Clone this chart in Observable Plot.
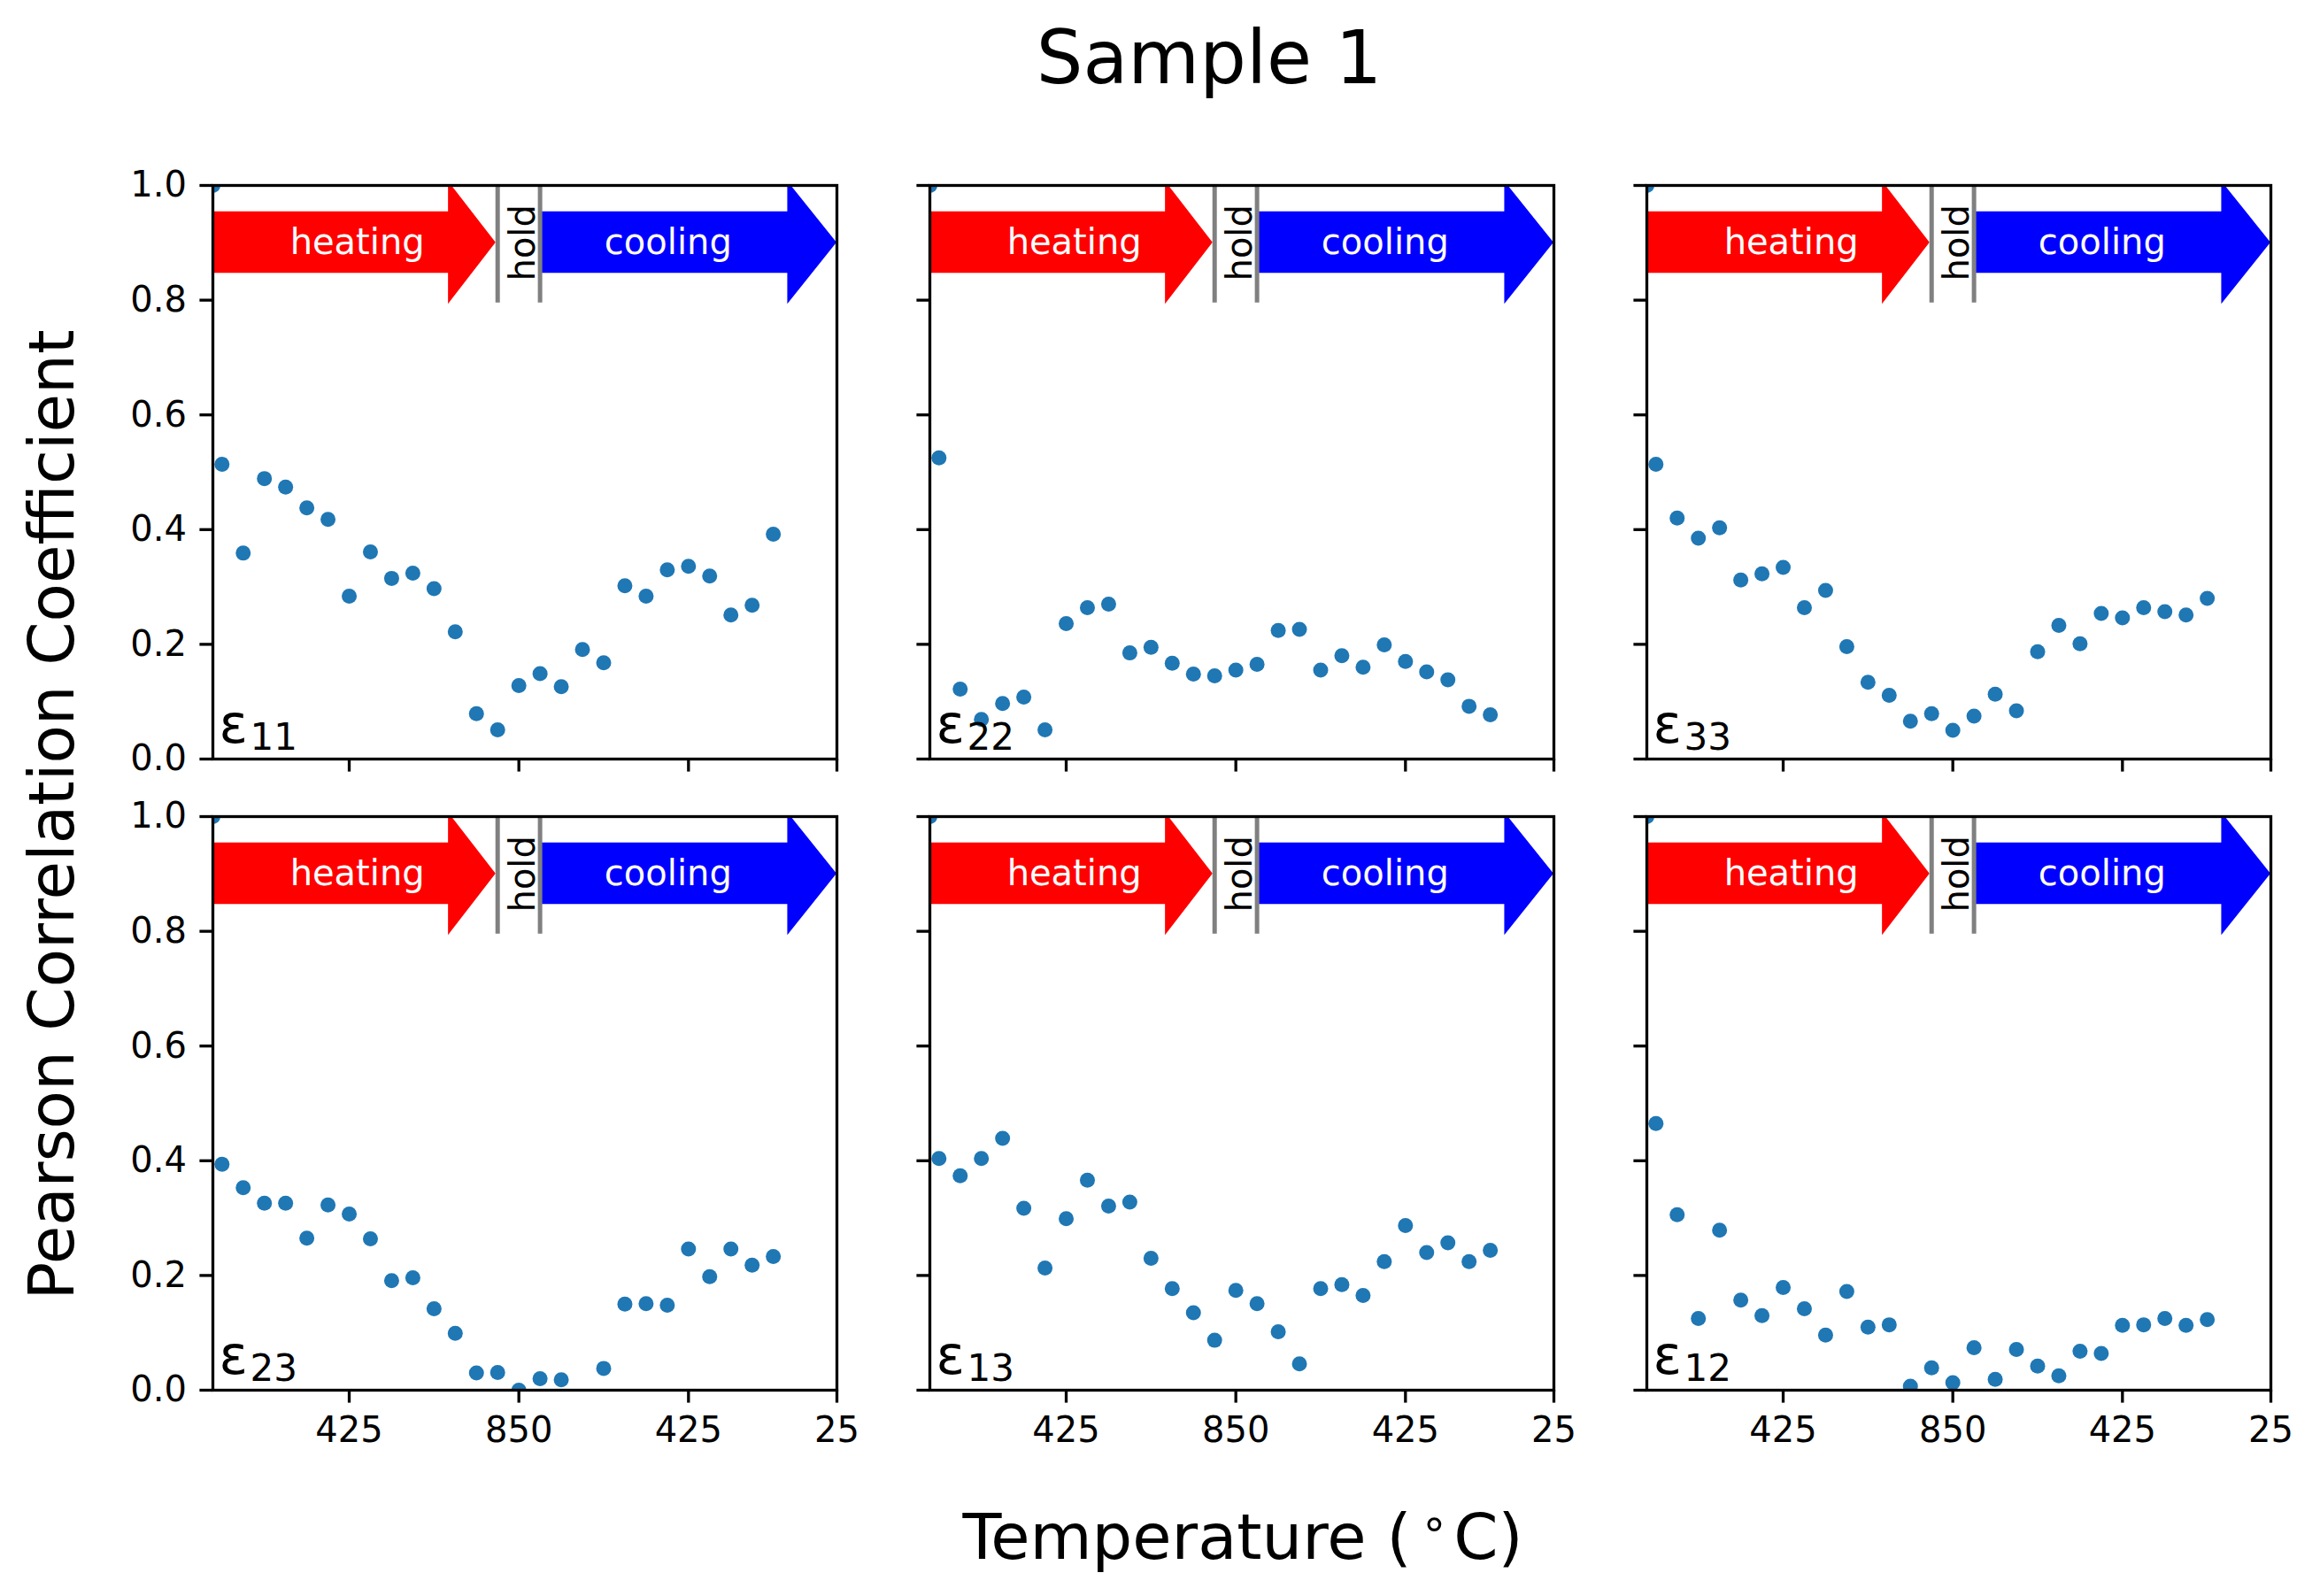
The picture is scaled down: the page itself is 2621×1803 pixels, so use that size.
<!DOCTYPE html>
<html>
<head>
<meta charset="utf-8">
<script src="https://cdn.jsdelivr.net/npm/d3@7"></script>
<script src="https://cdn.jsdelivr.net/npm/@observablehq/plot@0.6"></script>
<style>
  html, body { margin: 0; padding: 0; background: #fff; }
  #fig { position: relative; width: 2621px; height: 1803px; font-family: "DejaVu Sans"; color: #000; overflow: hidden; background: #fff; }
  .panel { position: absolute; }
  .txt { position: absolute; white-space: nowrap; text-align: center; font-family: "DejaVu Sans"; }
  #title { left: 366px; width: 2000px; top: 24px; font-size: 83px; line-height: 83px; }
  #xlabel { left: 404px; width: 2000px; top: 1700px; font-size: 72px; line-height: 72px; }
  #ylabel { left: -641.5px; top: 884.6px; width: 1400px; height: 70.8px; font-size: 70.8px; line-height: 70.8px; transform: rotate(-90deg); }
  .deg { font-size: 0.7em; position: relative; top: -0.45em; margin: 0 0.12em 0 0.2em; }
</style>
</head>
<body>
<div id="fig">
  <div id="title" class="txt">Sample 1</div>
  <div id="ylabel" class="txt">Pearson Correlation Coefficient</div>
  <div id="xlabel" class="txt">Temperature (<span class="deg">∘</span>C)</div>
</div>
<script>
// ---- data ----
// x position of each measurement (step index along heating → hold → cooling)
const steps = [0.57, 1, 2, 3, 4, 5, 6, 7, 8, 9, 10, 11, 12, 13, 14, 15, 16, 17, 18, 19, 20, 21, 22, 23, 24, 25, 26, 27];

const e11 = [1.0, 0.514, 0.359, 0.489, 0.474, 0.438, 0.418, 0.284, 0.361, 0.315, 0.324, 0.297, 0.222, 0.079, 0.051, 0.128, 0.149, 0.126, 0.191, 0.168, 0.302, 0.284, 0.330, 0.336, 0.319, 0.251, 0.268, 0.392];
const e22 = [1.0, 0.525, 0.122, 0.069, 0.097, 0.108, 0.051, 0.236, 0.264, 0.270, 0.185, 0.195, 0.167, 0.148, 0.145, 0.155, 0.165, 0.224, 0.226, 0.155, 0.180, 0.160, 0.199, 0.170, 0.152, 0.138, 0.092, 0.077];
const e33 = [1.0, 0.514, 0.420, 0.385, 0.403, 0.312, 0.323, 0.334, 0.264, 0.294, 0.196, 0.134, 0.111, 0.066, 0.079, 0.050, 0.075, 0.113, 0.084, 0.187, 0.233, 0.201, 0.254, 0.246, 0.264, 0.257, 0.251, 0.280];
const e23 = [1.0, 0.394, 0.353, 0.326, 0.326, 0.265, 0.323, 0.307, 0.264, 0.191, 0.196, 0.142, 0.099, 0.030, 0.031, 0.0, 0.020, 0.018, null, 0.038, 0.150, 0.151, 0.148, 0.246, 0.198, 0.246, 0.218, 0.233];
const e13 = [1.0, 0.404, 0.374, 0.404, 0.439, 0.317, 0.213, 0.299, 0.366, 0.321, 0.328, 0.230, 0.177, 0.135, 0.087, 0.174, 0.151, 0.102, 0.046, 0.177, 0.184, 0.165, 0.224, 0.287, 0.240, 0.257, 0.224, 0.244];
const e12 = [1.0, 0.465, 0.306, 0.125, 0.279, 0.157, 0.130, 0.179, 0.142, 0.096, 0.172, 0.110, 0.114, 0.007, 0.039, 0.013, 0.074, 0.019, 0.071, 0.042, 0.025, 0.068, 0.064, 0.113, 0.114, 0.125, 0.113, 0.123];

const series = [e11, e22, e33, e23, e13, e12];
const subscripts = ["11", "22", "33", "23", "13", "12"];

const yTicks = [0, 0.2, 0.4, 0.6, 0.8, 1.0];
const xTicks = [7, 15, 23, 30];
const xTickLabels = ["425", "850", "425", "25"];

// stage annotation
const holdBounds = [14, 16];
const stageLabels = [
  {x: 7.38, y: 0.9, label: "heating"},
  {x: 22.04, y: 0.9, label: "cooling"}
];
const holdLabel = [{x: 15.2, y: 0.9, label: "hold"}];
const heatArrow = [
  {x: 0.57, y1: 0.847, y2: 0.954},
  {x: 11.68, y1: 0.847, y2: 0.954},
  {x: 11.68, y1: 0.793, y2: 1.007},
  {x: 13.92, y1: 0.9, y2: 0.9}
];
const coolArrow = [
  {x: 16.1, y1: 0.847, y2: 0.954},
  {x: 27.68, y1: 0.847, y2: 0.954},
  {x: 27.68, y1: 0.793, y2: 1.007},
  {x: 30, y1: 0.9, y2: 0.9}
];

// ---- layout ----
const W = 705, H = 648;
const ML = 100, MR = 45, MT = 30, MB = 80;
const colLeft = [240, 1050, 1860];
const rowTop = [209.3, 921.7];
const tickLabelFor = new Map(xTicks.map((t, i) => [t, xTickLabels[i]]));

const fig = document.getElementById("fig");

for (let r = 0; r < 2; r++) {
  for (let c = 0; c < 3; c++) {
    const i = r * 3 + c;
    const pts = steps.map((x, k) => ({x, v: series[i][k]})).filter(d => d.v != null);
    const plot = Plot.plot({
      width: W + ML + MR,
      height: H + MT + MB,
      marginLeft: ML, marginRight: MR, marginTop: MT, marginBottom: MB,
      style: {background: "transparent", overflow: "visible", fontFamily: "DejaVu Sans", color: "black"},
      x: {domain: [0.57, 30]},
      y: {domain: [0, 1]},
      marks: [
        Plot.areaY(heatArrow, {x: "x", y1: "y1", y2: "y2", fill: "#ff0000", clip: true}),
        Plot.areaY(coolArrow, {x: "x", y1: "y1", y2: "y2", fill: "#0000ff", clip: true}),
        Plot.ruleX(holdBounds, {x: d => d, y1: () => 0.795, y2: () => 1.0, stroke: "#808080", strokeWidth: 5}),
        Plot.text(stageLabels, {x: "x", y: "y", text: "label", fill: "white", fontSize: 40}),
        Plot.text(holdLabel, {x: "x", y: "y", text: "label", fill: "black", fontSize: 40, rotate: -90}),
        Plot.dot(pts, {x: "x", y: "v", r: 8.5, fill: "#1f77b4", stroke: null, clip: true}),
        Plot.axisY({ticks: yTicks, tickSize: 14.6, tickPadding: 15, fontSize: 40, strokeWidth: 3.3,
          tickFormat: c === 0 ? d3.format(".1f") : () => "", label: null}),
        Plot.axisX({ticks: xTicks, tickSize: 14.6, tickPadding: 15, fontSize: 40, strokeWidth: 3.3,
          tickFormat: r === 1 ? (d => tickLabelFor.get(d)) : () => "", label: null}),
        Plot.frame({stroke: "black", strokeWidth: 3.3}),
        Plot.text([subscripts[i]], {frameAnchor: "bottom-left", text: () => "ε", dx: 7, dy: -19,
          fontSize: 60, textAnchor: "start", lineAnchor: "bottom", fill: "black"}),
        Plot.text([subscripts[i]], {frameAnchor: "bottom-left", text: d => d, dx: 42, dy: -11,
          fontSize: 42, textAnchor: "start", lineAnchor: "bottom", fill: "black"})
      ]
    });
    plot.classList.add("panel");
    plot.style.left = (colLeft[c] - ML) + "px";
    plot.style.top = (rowTop[r] - MT) + "px";
    fig.appendChild(plot);
  }
}
</script>
</body>
</html>
